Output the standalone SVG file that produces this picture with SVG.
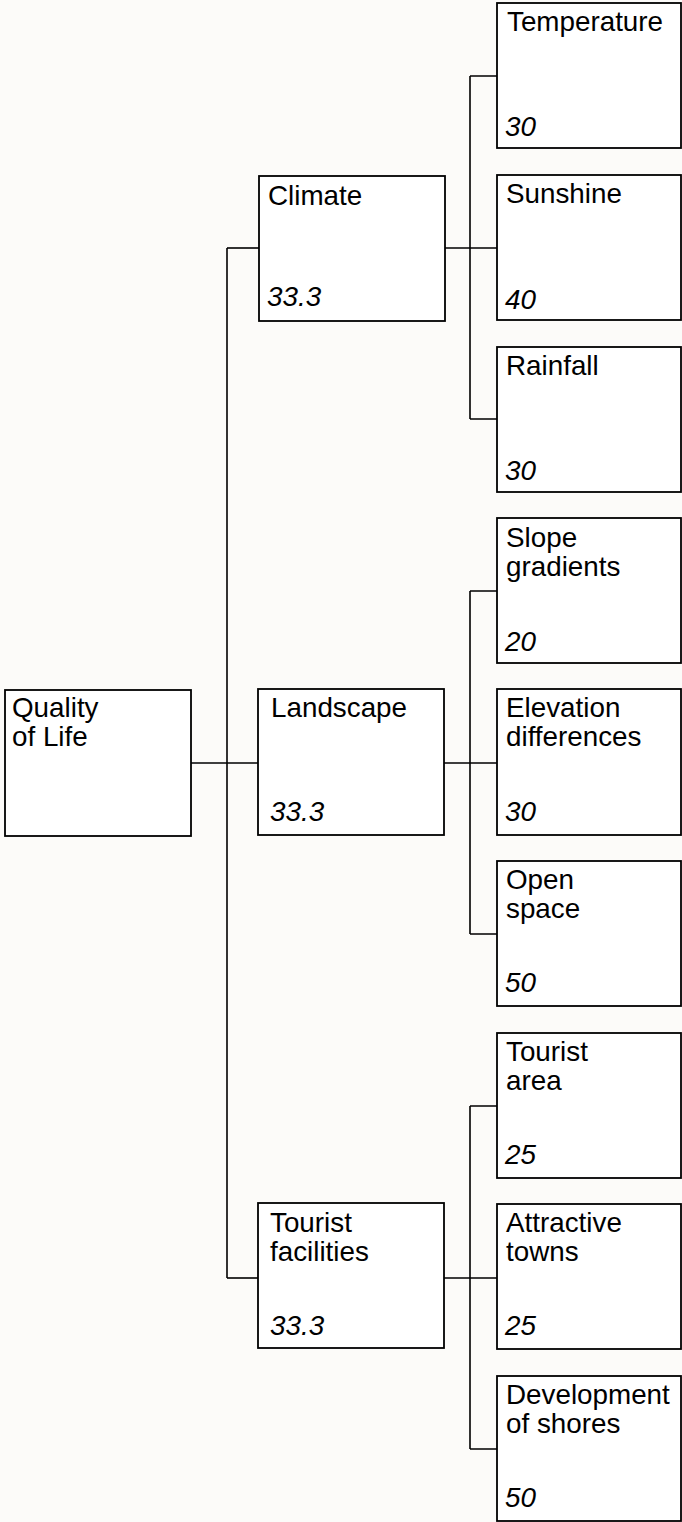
<svg xmlns="http://www.w3.org/2000/svg" width="682" height="1522" viewBox="0 0 682 1522">
<style>
.bx{fill:#ffffff;stroke:#000000;stroke-width:1.8}
.ln{fill:none;stroke:#000000;stroke-width:1.6}
.t{font-family:"Liberation Sans",Arial,sans-serif;font-size:27.8px;fill:#000000}
.v{font-family:"Liberation Sans",Arial,sans-serif;font-size:27.8px;font-style:italic;fill:#000000}
</style>
<rect x="0" y="0" width="682" height="1522" fill="#fcfbf9"/>
<g id="connectors">
<path class="ln" d="M191,763 H259"/>
<path class="ln" d="M227,248 V1278"/>
<path class="ln" d="M227,248 H259"/>
<path class="ln" d="M227,1278 H258"/>
<path class="ln" d="M445,248 H497 M470,76 V419 M470,76 H497 M470,419 H497"/>
<path class="ln" d="M444,763 H497 M470,591 V934 M470,591 H497 M470,934 H497"/>
<path class="ln" d="M444,1278 H497 M470,1106 V1449 M470,1106 H497 M470,1449 H497"/>
</g>
<g id="quality">
<rect class="bx" x="5" y="690" width="186" height="146"/>
<text class="t" x="12" y="717">Quality</text>
<text class="t" x="12" y="746">of Life</text>
</g>
<g id="climate">
<rect class="bx" x="259" y="176" width="186" height="145"/>
<text class="t" x="268" y="205">Climate</text>
<text class="v" x="267" y="306">33.3</text>
</g>
<g id="landscape">
<rect class="bx" x="258" y="689" width="186" height="146"/>
<text class="t" x="271" y="717">Landscape</text>
<text class="v" x="270" y="821">33.3</text>
</g>
<g id="tourist-facilities">
<rect class="bx" x="258" y="1203" width="186" height="145"/>
<text class="t" x="270" y="1232">Tourist</text>
<text class="t" x="270" y="1261">facilities</text>
<text class="v" x="270" y="1335">33.3</text>
</g>
<g id="temperature">
<rect class="bx" x="497" y="3" width="184" height="145"/>
<text class="t" x="507" y="31">Temperature</text>
<text class="v" x="505" y="136">30</text>
</g>
<g id="sunshine">
<rect class="bx" x="497" y="175" width="184" height="145"/>
<text class="t" x="506" y="203">Sunshine</text>
<text class="v" x="505" y="309">40</text>
</g>
<g id="rainfall">
<rect class="bx" x="497" y="347" width="184" height="145"/>
<text class="t" x="506" y="375">Rainfall</text>
<text class="v" x="505" y="480">30</text>
</g>
<g id="slope">
<rect class="bx" x="497" y="518" width="184" height="145"/>
<text class="t" x="506" y="547">Slope</text>
<text class="t" x="506" y="576">gradients</text>
<text class="v" x="505" y="651">20</text>
</g>
<g id="elevation">
<rect class="bx" x="497" y="689" width="184" height="146"/>
<text class="t" x="506" y="717">Elevation</text>
<text class="t" x="506" y="746">differences</text>
<text class="v" x="505" y="821">30</text>
</g>
<g id="open-space">
<rect class="bx" x="497" y="861" width="184" height="145"/>
<text class="t" x="506" y="889">Open</text>
<text class="t" x="506" y="918">space</text>
<text class="v" x="505" y="992">50</text>
</g>
<g id="tourist-area">
<rect class="bx" x="497" y="1033" width="184" height="145"/>
<text class="t" x="506" y="1061">Tourist</text>
<text class="t" x="506" y="1090">area</text>
<text class="v" x="505" y="1164">25</text>
</g>
<g id="attractive-towns">
<rect class="bx" x="497" y="1204" width="184" height="145"/>
<text class="t" x="506" y="1232">Attractive</text>
<text class="t" x="506" y="1261">towns</text>
<text class="v" x="505" y="1335">25</text>
</g>
<g id="development">
<rect class="bx" x="497" y="1376" width="184" height="145"/>
<text class="t" x="506" y="1404">Development</text>
<text class="t" x="506" y="1433">of shores</text>
<text class="v" x="505" y="1507">50</text>
</g>
</svg>
